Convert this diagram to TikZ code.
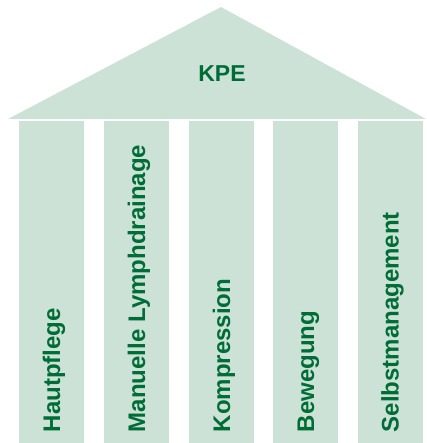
\documentclass[tikz,border=0pt]{standalone}
\usepackage{fontspec}
\setmainfont{Liberation Sans}
\definecolor{kpefill}{RGB}{205,226,214}
\definecolor{kpegreen}{RGB}{0,108,54}
\tikzset{
  pillar/.style={fill=kpefill},
  pillartext/.style={rotate=90, anchor=base west, inner sep=0pt, text=kpegreen,
    font=\fontsize{24}{28}\selectfont\bfseries},
}
\begin{document}
\begin{tikzpicture}[x=1pt, y=1pt]
    \useasboundingbox (0,0) rectangle (426,443);
    \fill [kpefill] (8,324)--(221,436)--(426,324)--cycle;
    \node [text=kpegreen, font=\fontsize{23}{27}\selectfont\bfseries] (kpe) at (222,369) {KPE};
\fill [pillar] (19,0) rectangle (84,322);
\fill [pillar] (104,0) rectangle (169,322);
\fill [pillar] (189,0) rectangle (254,322);
\fill [pillar] (273,0) rectangle (338,322);
\fill [pillar] (358,0) rectangle (423,322);
\node [pillartext] (haut) at (60.2,10.7) {Hautpflege};
\node [pillartext] (lymph) at (145.2,10.7) {Manuelle Lymphdrainage};
\node [pillartext] (kompr) at (230.2,10.7) {Kompression};
\node [pillartext] (beweg) at (314.2,10.7) {Bewegung};
\node [pillartext] (selbst) at (398.7,10.7) {Selbstmanagement};
\end{tikzpicture}
\end{document}
